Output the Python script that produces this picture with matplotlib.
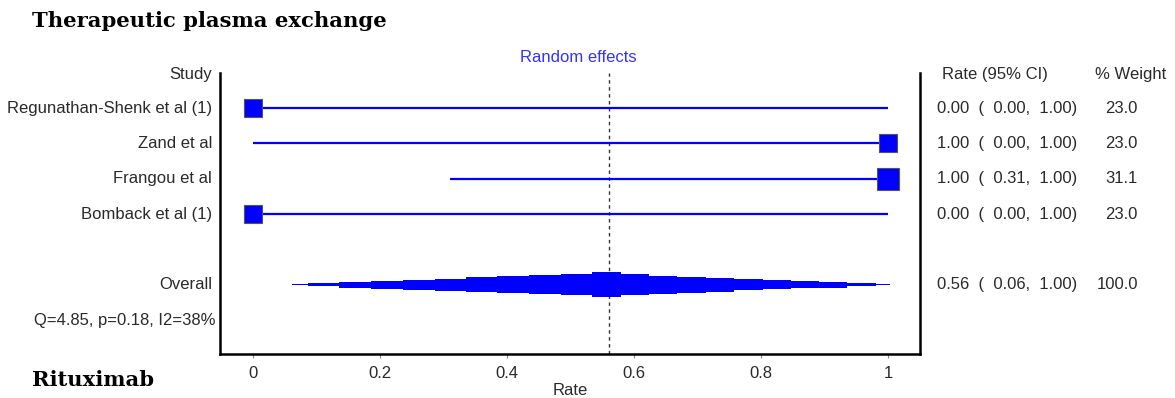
import matplotlib
matplotlib.use("Agg")
import matplotlib.pyplot as plt
import numpy as np
from matplotlib.transforms import blended_transform_factory

# ---------------------------------------------------------------
#  Data
# ---------------------------------------------------------------
STUDIES = ["Regunathan-Shenk et al (1)", "Zand et al", "Frangou et al",
           "Bomback et al (1)"]
RATES = [0.00, 1.00, 1.00, 0.00]
CI_LOW = [0.00, 0.00, 0.31, 0.00]
CI_HIGH = [1.00, 1.00, 1.00, 1.00]
WEIGHTS = [23.0, 23.0, 31.1, 23.0]

OVERALL_RATE = 0.56
OVERALL_LOW = 0.06
OVERALL_HIGH = 1.00
OVERALL_WEIGHT = 100.0
HETEROGENEITY = "Q=4.85, p=0.18, I2=38%"

# stepped "diamond" of the pooled estimate: step edges (rate) and heights (rows)
OVERALL_EDGES = [0.061, 0.087, 0.135, 0.186, 0.236, 0.287, 0.335, 0.384,
                 0.435, 0.485, 0.534, 0.580, 0.624, 0.668, 0.713, 0.757,
                 0.803, 0.847, 0.891, 0.935, 0.981, 1.003]
OVERALL_HEIGHTS = [0.03, 0.093, 0.17, 0.226, 0.283, 0.34, 0.425, 0.48,
                   0.54, 0.59, 0.70, 0.585, 0.51, 0.45, 0.39, 0.32,
                   0.26, 0.21, 0.16, 0.093, 0.03]

XTICKS = [0, 0.2, 0.4, 0.6, 0.8, 1]
XTICK_LABELS = ["0", "0.2", "0.4", "0.6", "0.8", "1"]

BLUE = "#0000ff"
FONT = "Liberation Sans"
FS = 12
TXT_COLOR = "#2a2a2a"

W, H = 1175, 398
fig = plt.figure(figsize=(W / 100, H / 100), dpi=100)
ax = fig.add_axes([220 / W, 1 - 354 / H, 700 / W, (354 - 72.7) / H])

rows = np.arange(1, len(STUDIES) + 1)
overall_row = len(STUDIES) + 2
q_row = overall_row + 1

# individual studies: CI line + weighted square
for y, r, lo, hi, w in zip(rows, RATES, CI_LOW, CI_HIGH, WEIGHTS):
    ax.plot([lo, hi], [y, y], color=BLUE, lw=1.6, solid_capstyle="butt",
            zorder=2)
    ax.plot(r, y, marker="s", markersize=2.77 * np.sqrt(w), color=BLUE,
            markeredgecolor="#555555", markeredgewidth=0.8, zorder=3)

# pooled estimate as stepped bars
edges = np.array(OVERALL_EDGES)
heights = np.array(OVERALL_HEIGHTS)
ax.bar(edges[:-1], heights, width=np.diff(edges),
       bottom=overall_row - heights / 2, align="edge", color=BLUE,
       edgecolor="none", zorder=2)

ax.axvline(OVERALL_RATE, color="#333333", lw=1.0, ls=(0, (2.5, 2.5)),
           zorder=1)

ax.set_xlim(-0.052, 1.050)
ax.set_ylim(7.96, 0)
ax.set_yticks([])
ax.set_xticks(XTICKS)
ax.set_xticklabels(XTICK_LABELS, fontfamily=FONT, fontsize=FS,
                   color=TXT_COLOR)
ax.tick_params(axis="x", length=3, width=0.8, color="#888888", pad=6)
ax.spines["top"].set_visible(False)
for side in ("left", "bottom", "right"):
    ax.spines[side].set_linewidth(1.8)
ax.set_xlabel("Rate", fontfamily=FONT, fontsize=FS, color=TXT_COLOR,
              labelpad=1)

# texts placed in figure x, data y
tr = blended_transform_factory(fig.transFigure, ax.transData)
txt = dict(fontfamily=FONT, fontsize=FS, color=TXT_COLOR, va="center",
           transform=tr, clip_on=False)


def ci_text(r, lo, hi):
    return f"{r:.2f}  (  {lo:.2f},  {hi:.2f})"


fig.text(212 / W, 0.05, "Study", ha="right", **txt)
fig.text(942 / W, 0.05, "Rate (95% CI)", ha="left", **txt)
fig.text(1095 / W, 0.05, "% Weight", ha="left", **txt)

for y, name, r, lo, hi, w in zip(rows, STUDIES, RATES, CI_LOW, CI_HIGH,
                                 WEIGHTS):
    fig.text(212 / W, y, name, ha="right", **txt)
    fig.text(937 / W, y, ci_text(r, lo, hi), ha="left", **txt)
    fig.text(1138 / W, y, f"{w:.1f}", ha="right", **txt)

fig.text(212 / W, overall_row, "Overall", ha="right", **txt)
fig.text(937 / W, overall_row,
         ci_text(OVERALL_RATE, OVERALL_LOW, OVERALL_HIGH), ha="left", **txt)
fig.text(1138 / W, overall_row, f"{OVERALL_WEIGHT:.1f}", ha="right", **txt)
fig.text(216 / W, q_row, HETEROGENEITY, ha="right", **txt)

fig.text(578 / W, 1 - 57 / H, "Random effects", ha="center", va="center",
         fontfamily=FONT, fontsize=FS, color="#3333ff")

fig.text(32 / W, 1 - 21 / H, "Therapeutic plasma exchange", ha="left",
         va="center", fontfamily="DejaVu Serif", fontweight="bold",
         fontsize=15.2, color="black")
fig.text(32 / W, 1 - 380 / H, "Rituximab", ha="left", va="center",
         fontfamily="DejaVu Serif", fontweight="bold", fontsize=15.2,
         color="black")

fig.savefig("out.png", dpi=100)
